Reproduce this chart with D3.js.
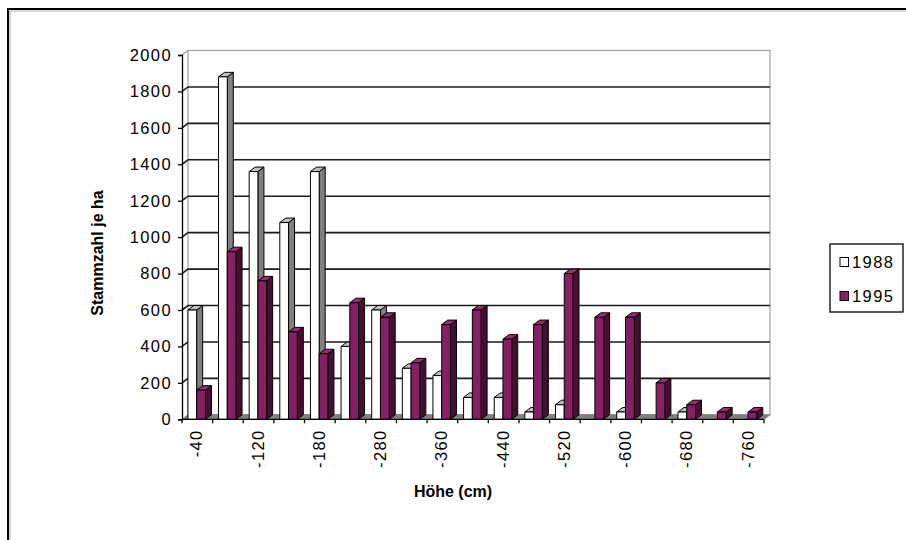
<!DOCTYPE html>
<html>
<head>
<meta charset="utf-8">
<script src="https://cdn.jsdelivr.net/npm/d3@7"></script>
<style>
  body { margin: 0; background: #fff; }
  svg { display: block; }
  text { font-family: Arial, "Liberation Sans", sans-serif; }
</style>
</head>
<body>
<svg id="chart" width="906" height="540"></svg>
<script>
// Stem counts per hectare by height class, surveys 1988 and 1995
const categories = ["-40", "-80", "-120", "-150", "-180", "-230", "-280", "-320", "-360", "-400",
                    "-440", "-480", "-520", "-560", "-600", "-640", "-680", "-720", "-760"];
const shownCategoryLabels = ["-40", "-120", "-180", "-280", "-360", "-440", "-520", "-600", "-680", "-760"];
const seriesNames = ["1988", "1995"];
const values1988 = [600, 1880, 1360, 1080, 1360, 400, 600, 280, 240, 120, 120, 40, 80, 0, 40, 0, 40, 0, 0];
const values1995 = [160, 920, 760, 480, 360, 640, 560, 310, 520, 600, 440, 520, 800, 560, 560, 200, 80, 40, 40];
const yTickValues = [0, 200, 400, 600, 800, 1000, 1200, 1400, 1600, 1800, 2000];
const yTitle = "Stammzahl je ha";
const xTitle = "Höhe (cm)";

const seriesValues = [values1988, values1995];
const seriesStyle = [
  { front: "#ffffff", side: "#808080", top: "#c0c0c0" },
  { front: "#861f63", side: "#45102f", top: "#9b2a73" }
];

const svg = d3.select("#chart");

// Outer chart-area frame
svg.append("rect").attr("x", 8).attr("y", 9).attr("width", 1000).attr("height", 1000)
  .attr("fill", "none").attr("stroke", "#000").attr("stroke-width", 2);
svg.append("path").attr("d", "M10,1000V11H1000")
  .attr("fill", "none").attr("stroke", "#b0b0b0").attr("stroke-width", 1);

// Front plane of the 3D plot, and depth offset towards the back wall
const plotLeft = 182, plotRight = 764, plotBottom = 419.3, plotTop = 55;
const dx = 6, dy = -4.5;

const x = d3.scaleBand().domain(categories).range([plotLeft, plotRight]);
const xs = d3.scaleBand().domain(seriesNames).range([0, x.bandwidth()])
  .paddingInner(0).paddingOuter(0.75).align(0.45);
const y = d3.scaleLinear().domain([0, 2000]).range([plotBottom, plotTop]);

// Back wall
const backL = plotLeft + dx, backR = plotRight + dx;
svg.append("rect")
  .attr("x", backL).attr("y", y(2000) + dy)
  .attr("width", backR - backL).attr("height", y(0) - y(2000))
  .attr("fill", "#fff").attr("stroke", "#a0a0a0").attr("stroke-width", 1.2);

// Gridlines: diagonal on the side wall, then across the back wall
const grid = svg.append("g");
yTickValues.filter(v => v > 0 && v < 2000).forEach(v => {
  grid.append("path")
    .attr("d", `M${plotLeft},${y(v)}L${backL},${y(v) + dy}H${backR}`)
    .attr("fill", "none").attr("stroke", "#1a1a1a").attr("stroke-width", 1.6);
});

// Side wall edge
svg.append("path")
  .attr("d", `M${plotLeft},${y(2000)}L${backL},${y(2000) + dy}`)
  .attr("fill", "none").attr("stroke", "#a0a0a0").attr("stroke-width", 1.2);

// Floor
svg.append("path")
  .attr("d", `M${plotLeft},${y(0)}L${backL},${y(0) + dy}H${backR}L${plotRight},${y(0)}Z`)
  .attr("fill", "#808080").attr("stroke", "#808080").attr("stroke-width", 1);

// 3D columns
const bars = svg.append("g").attr("stroke", "#000").attr("stroke-width", 1).attr("stroke-linejoin", "round");
categories.forEach((cat, i) => {
  seriesNames.forEach((s, j) => {
    const v = seriesValues[j][i];
    if (v <= 0) return;
    const x0 = x(cat) + xs(s), x1 = x0 + xs.bandwidth();
    const yt = y(v), yb = y(0);
    const st = seriesStyle[j];
    bars.append("path")
      .attr("d", `M${x1},${yt}L${x1 + dx},${yt + dy}V${yb + dy}L${x1},${yb}Z`)
      .attr("fill", st.side);
    bars.append("path")
      .attr("d", `M${x0},${yt}L${x0 + dx},${yt + dy}H${x1 + dx}L${x1},${yt}Z`)
      .attr("fill", st.top);
    bars.append("rect")
      .attr("x", x0).attr("y", yt).attr("width", x1 - x0).attr("height", yb - yt)
      .attr("fill", st.front);
  });
});

// Y axis (front edge of the side wall)
const yAxis = d3.axisLeft(y).tickValues(yTickValues).tickSize(4).tickPadding(6).tickFormat(d3.format("d"));
const gy = svg.append("g").attr("transform", `translate(${plotLeft},0)`).call(yAxis);
gy.select(".domain").attr("stroke", "#000").attr("stroke-width", 1.3);
gy.selectAll(".tick line").attr("stroke", "#000").attr("stroke-width", 1.3);
gy.selectAll(".tick text").attr("font-size", "16.5px").attr("letter-spacing", "1.4px").attr("fill", "#000");

// X axis (front edge of the floor)
const gx = svg.append("g").attr("transform", `translate(0,${plotBottom})`);
gx.append("line").attr("x1", plotLeft).attr("x2", plotRight).attr("stroke", "#000").attr("stroke-width", 1.3);
gx.selectAll("line.tick").data(d3.range(categories.length + 1)).join("line")
  .attr("class", "tick")
  .attr("x1", i => plotLeft + i * x.step()).attr("x2", i => plotLeft + i * x.step())
  .attr("y1", 0).attr("y2", 4).attr("stroke", "#000").attr("stroke-width", 1.3);
gx.selectAll("text").data(shownCategoryLabels).join("text")
  .attr("transform", d => `translate(${x(d) + x.bandwidth() / 2 + 5},10) rotate(-90)`)
  .attr("text-anchor", "end")
  .attr("font-size", "16.5px").attr("letter-spacing", "1.4px")
  .text(d => d);

// Axis titles
svg.append("text").attr("x", 453).attr("y", 497).attr("text-anchor", "middle")
  .attr("font-size", "16px").attr("font-weight", "bold").text(xTitle);
svg.append("text").attr("transform", "translate(103,253) rotate(-90)").attr("text-anchor", "middle")
  .attr("font-size", "16px").attr("font-weight", "bold").text(yTitle);

// Legend
const legend = svg.append("g");
legend.append("rect").attr("x", 830).attr("y", 244).attr("width", 73).attr("height", 68)
  .attr("fill", "#fff").attr("stroke", "#000").attr("stroke-width", 1.3);
seriesNames.forEach((s, j) => {
  const yy = 262 + j * 34;
  legend.append("rect").attr("x", 840).attr("y", yy - 4.5).attr("width", 8.5).attr("height", 9)
    .attr("fill", seriesStyle[j].front).attr("stroke", "#000").attr("stroke-width", 1);
  legend.append("text").attr("x", 852).attr("y", yy + 6).attr("font-size", "16.5px")
    .attr("letter-spacing", "1.4px").text(s);
});
</script>
</body>
</html>
